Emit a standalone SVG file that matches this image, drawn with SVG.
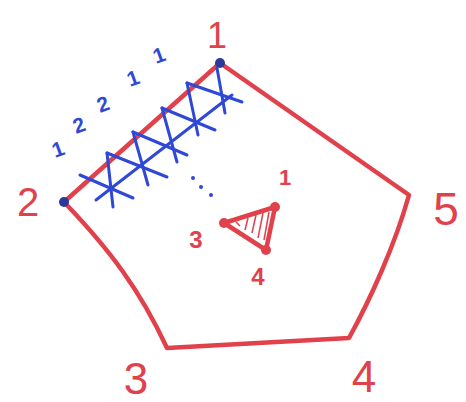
<svg xmlns="http://www.w3.org/2000/svg" width="466" height="402" viewBox="0 0 466 402">
<style>
.red{fill:none;stroke:#e0414b;stroke-width:4.5;stroke-linecap:round;stroke-linejoin:round}
.blue{fill:none;stroke:#2f49d6;stroke-width:3;stroke-linecap:round}
.rt{fill:#e0414b;font-family:"Liberation Sans",sans-serif}
.bt{fill:#2f49d6;font-family:"Liberation Sans",sans-serif;font-size:21px;font-weight:bold}
</style>
<rect width="466" height="402" fill="#fff"/>
<g id="pentagon">
<path class="red" d="M220,63 L409,195 C395,245 370,300 349,338 L167,348 C140,290 110,250 64,202 Z"/>
<circle cx="220" cy="63" r="5" fill="#2a3a9a"/>
<circle cx="64" cy="202" r="5" fill="#2a3a9a"/>
</g>
<g id="labels">
<text class="rt" x="217" y="48" font-size="36" text-anchor="middle">1</text>
<text class="rt" x="28" y="216" font-size="40" text-anchor="middle">2</text>
<text class="rt" x="136" y="394" font-size="44" text-anchor="middle">3</text>
<text class="rt" x="364" y="392" font-size="44" text-anchor="middle">4</text>
<text class="rt" x="446" y="225" font-size="46" text-anchor="middle">5</text>
</g>
<g id="crosses">
<path class="blue" d="M107,153 L113,207 M133,132 L148,185 M162,108 L177,162 M187,83 L198,135 M217,68 L225,113"/>
<path class="blue" d="M80,175 L133,198 M107,153 L167,177 M133,132 L187,155 M162,108 L215,130 M187,83 L242,102"/>
<path class="blue" d="M96,200 L232,95"/>
<circle cx="193" cy="178" r="2" fill="#2f49d6"/>
<circle cx="201" cy="187" r="2" fill="#2f49d6"/>
<circle cx="211" cy="195" r="2" fill="#2f49d6"/>
<text class="bt" x="55" y="158" transform="rotate(-20 55 158)">1</text>
<text class="bt" x="76" y="134" transform="rotate(-20 76 134)">2</text>
<text class="bt" x="100" y="113" transform="rotate(-20 100 113)">2</text>
<text class="bt" x="130" y="87" transform="rotate(-20 130 87)">1</text>
<text class="bt" x="156" y="64" transform="rotate(-20 156 64)">1</text>
</g>
<g id="triangle">
<path class="red" d="M275,207 L224,223 L266,250 Z" stroke-width="7"/>
<path fill="none" stroke="#e0414b" stroke-width="1.5" d="M240,226 L236,222 M245,230 L248,218 M252,233 L256,215 M258,238 L263,213 M264,240 L269,212"/>
<circle cx="275" cy="207" r="5" fill="#e0414b"/>
<circle cx="224" cy="223" r="5" fill="#e0414b"/>
<circle cx="266" cy="250" r="5" fill="#e0414b"/>
<text class="rt" x="285" y="185" font-size="22" font-weight="bold" text-anchor="middle">1</text>
<text class="rt" x="196" y="248" font-size="24" font-weight="bold" text-anchor="middle">3</text>
<text class="rt" x="258" y="285" font-size="24" font-weight="bold" text-anchor="middle">4</text>
</g>
</svg>
